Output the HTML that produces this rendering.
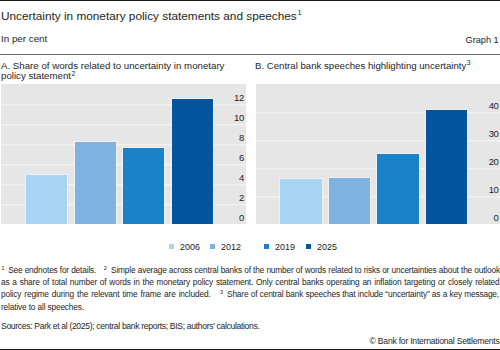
<!DOCTYPE html>
<html><head><meta charset="utf-8">
<style>
html,body{margin:0;padding:0;background:#fff;}
body{width:500px;height:350px;position:relative;overflow:hidden;font-family:"Liberation Sans",sans-serif;color:#1e1e1e;}
.a{position:absolute;white-space:nowrap;line-height:1;}
.j{position:absolute;white-space:nowrap;line-height:1;text-align:justify;text-align-last:justify;font-size:8.3px;letter-spacing:-0.15px;}
.ln{position:absolute;}
.bar{position:absolute;box-shadow:0 0 0 1px rgba(255,255,255,.4);}
.gl{position:absolute;height:1px;background:rgba(255,255,255,.45);box-shadow:0 1px 0 rgba(255,255,255,.22);}
.yl{position:absolute;font-size:9.5px;line-height:1;text-align:right;width:30px;letter-spacing:-0.4px;}
.sq{position:absolute;width:5px;height:5px;}
.lg{position:absolute;font-size:9px;line-height:1;}
.s{position:absolute;font-size:5px;line-height:1;}
</style></head><body>
<div class="ln" style="left:0;top:0;width:500px;height:1px;background:#1a1a1a"></div>
<div id="title" class="a" style="left:1px;top:10.8px;font-size:11.8px">Uncertainty in monetary policy statements and speeches</div>
<div class="s" style="left:297.5px;top:9.4px;font-size:7.5px">1</div>
<div id="unit" class="a" style="left:1px;top:34.4px;font-size:9.8px">In per cent</div>
<div id="graph" class="a" style="right:1.3px;top:35.7px;font-size:9.2px">Graph 1</div>
<div class="ln" style="left:0;top:54px;width:500px;height:1px;background:#6e6e6e"></div>

<div id="ta" class="a" style="left:1px;top:60.5px;font-size:9.7px;line-height:10.9px">A. Share of words related to uncertainty in monetary<br>policy statement</div>
<div class="s" style="left:71.6px;top:70.6px;font-size:6.8px">2</div>
<div id="tb" class="a" style="left:255px;top:60.5px;font-size:9.65px;">B. Central bank speeches highlighting uncertainty</div>
<div class="s" style="left:466.8px;top:60.2px;font-size:6.8px">3</div>

<!-- Panel A -->
<div class="ln" style="left:1px;top:84px;width:245px;height:140px;background:#e6e6e6"></div>
<div class="gl" style="left:1px;width:245px;top:104px"></div>
<div class="gl" style="left:1px;width:245px;top:124px"></div>
<div class="gl" style="left:1px;width:245px;top:144px"></div>
<div class="gl" style="left:1px;width:245px;top:164px"></div>
<div class="gl" style="left:1px;width:245px;top:184px"></div>
<div class="gl" style="left:1px;width:245px;top:204px"></div>
<div class="bar" style="left:26px;width:41px;top:175px;height:49px;background:#a8d5f3"></div>
<div class="bar" style="left:75px;width:41px;top:142px;height:82px;background:#7fb2e0"></div>
<div class="bar" style="left:123px;width:41px;top:148px;height:76px;background:#1a82c9"></div>
<div class="bar" style="left:172px;width:41px;top:99px;height:125px;background:#02559c"></div>
<div class="yl" style="left:213.9px;top:93.4px">12</div>
<div class="yl" style="left:213.9px;top:113.4px">10</div>
<div class="yl" style="left:213.9px;top:133.4px">8</div>
<div class="yl" style="left:213.9px;top:153.4px">6</div>
<div class="yl" style="left:213.9px;top:173.4px">4</div>
<div class="yl" style="left:213.9px;top:193.4px">2</div>
<div class="yl" style="left:213.9px;top:213.4px">0</div>

<!-- Panel B -->
<div class="ln" style="left:256px;top:84px;width:244px;height:140px;background:#e6e6e6"></div>
<div class="gl" style="left:256px;width:244px;top:112px"></div>
<div class="gl" style="left:256px;width:244px;top:140px"></div>
<div class="gl" style="left:256px;width:244px;top:168px"></div>
<div class="gl" style="left:256px;width:244px;top:196px"></div>
<div class="bar" style="left:280px;width:42px;top:179px;height:45px;background:#a8d5f3"></div>
<div class="bar" style="left:329px;width:41px;top:178px;height:46px;background:#7fb2e0"></div>
<div class="bar" style="left:377px;width:42px;top:154px;height:70px;background:#1a82c9"></div>
<div class="bar" style="left:426px;width:41px;top:110px;height:114px;background:#02559c"></div>
<div class="yl" style="left:468.5px;top:101.4px">40</div>
<div class="yl" style="left:468.5px;top:129.4px">30</div>
<div class="yl" style="left:468.5px;top:157.4px">20</div>
<div class="yl" style="left:468.5px;top:185.4px">10</div>
<div class="yl" style="left:468.5px;top:213.4px">0</div>

<!-- Legend -->
<div class="sq" style="left:169px;top:244px;background:#a8d5f3"></div>
<div class="lg" style="left:180px;top:242.6px">2006</div>
<div class="sq" style="left:210px;top:244px;background:#7fb2e0"></div>
<div class="lg" style="left:221px;top:242.6px">2012</div>
<div class="sq" style="left:264px;top:244px;background:#1a82c9"></div>
<div class="lg" style="left:275px;top:242.6px">2019</div>
<div class="sq" style="left:306px;top:244px;background:#02559c"></div>
<div class="lg" style="left:317px;top:242.6px">2025</div>

<!-- Footnotes -->
<div class="s" style="left:1.5px;top:266px;font-size:5.4px">1</div>
<div class="a" style="left:8.2px;top:265.9px;font-size:8.3px;letter-spacing:-0.15px">See endnotes for details.</div>
<div class="s" style="left:103.8px;top:265.6px;font-size:5.6px">2</div>
<div class="j" style="left:111px;top:265.9px;width:389px">Simple average across central banks of the number of words related to risks or uncertainties about the outlook</div>
<div class="j" style="left:1px;top:278.1px;width:498.5px">as a share of total number of words in the monetary policy statement. Only central banks operating an inflation targeting or closely related</div>
<div class="j" style="left:1px;top:290.4px;width:209.5px">policy regime during the relevant time frame are included.</div>
<div class="s" style="left:220px;top:289.8px;font-size:5.6px">3</div>
<div class="j" style="left:227px;top:290.4px;width:272px">Share of central bank speeches that include “uncertainty” as a key message,</div>
<div class="a" style="left:1px;top:302.6px;font-size:8.3px;letter-spacing:-0.15px">relative to all speeches.</div>

<div id="src" class="a" style="left:1px;top:321.5px;font-size:8.6px;letter-spacing:-0.33px">Sources: Park et al (2025); central bank reports; BIS; authors' calculations.</div>
<div id="copy" class="a" style="right:0.5px;top:336.5px;font-size:8.6px;letter-spacing:-0.23px">© Bank for International Settlements</div>
<div class="ln" style="left:0;top:349px;width:500px;height:1px;background:#1a1a1a"></div>
</body></html>
